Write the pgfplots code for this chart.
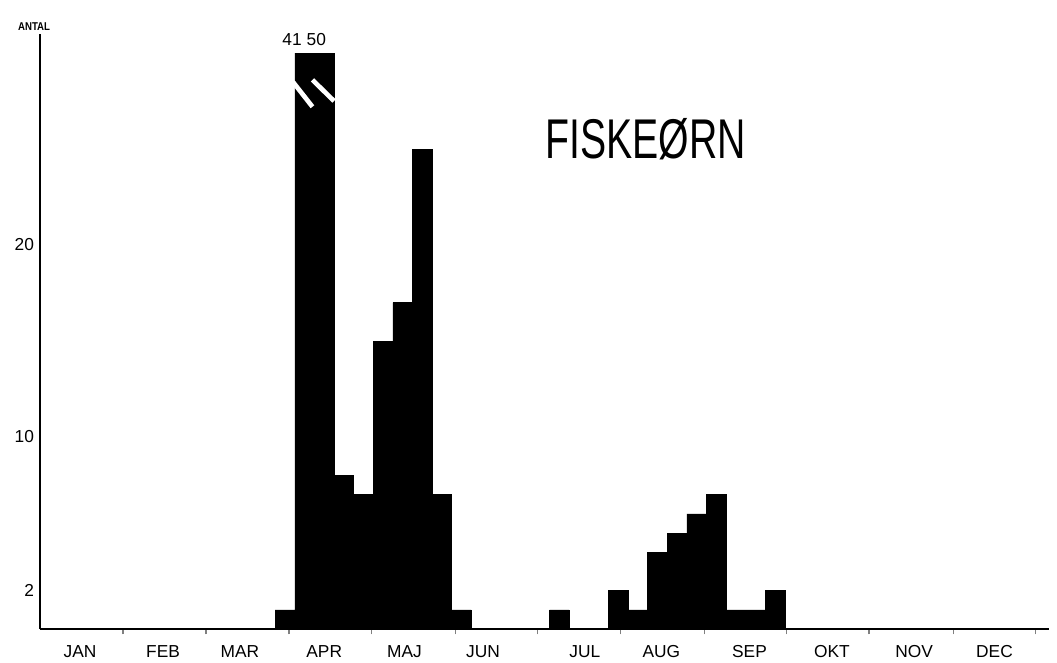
\documentclass[border=0pt]{standalone}
\usepackage{pgfplots}
\pgfplotsset{compat=1.18}
\usepackage{fontspec}
\setmainfont{Liberation Sans}
\begin{document}
\begin{tikzpicture}
\path[use as bounding box] (0pt,0pt) rectangle (792.75pt,-496.5pt);
\begin{axis}[
  at={(30pt,-471.75pt)}, anchor=south west,
  scale only axis,
  x=14.7pt, y=14.4pt,
  xmin=0, xmax=51.5, ymin=0, ymax=31,
  axis lines=left, axis line style={-, line width=1.2pt},
  clip=false,
  xtick={2.04,6.28,10.2,14.5,18.6,22.6,27.8,31.7,36.2,40.4,44.6,48.7},
  xticklabels={JAN,FEB,MAR,APR,MAJ,JUN,JUL,AUG,SEP,OKT,NOV,DEC},
  minor xtick={4.23,8.47,12.7,16.9,21.2,25.4,29.6,33.9,38.1,42.3,46.6,50.8},
  ytick={2,10,20},
  tick align=outside, major tick length=0pt, minor tick length=4pt,
  minor tick style={line width=0.9pt},
  tick label style={font=\fontsize{13}{13}\selectfont},
  /pgf/number format/assume math mode=true,
  xticklabel style={yshift=-9pt},
  yticklabel style={xshift=-1pt},
]
\addplot[ybar interval, fill=black, draw=black, y filter/.expression={min(y,30)}] coordinates {
(12,1) (13,41) (14,50) (15,8) (16,7) (17,15) (18,17) (19,25) (20,7) (21,1)
(22,0) (23,0) (24,0) (25,0) (26,1) (27,0) (28,0) (29,2) (30,1) (31,4)
(32,5) (33,6) (34,7) (35,1) (36,1) (37,2) (38,2)
};
\draw[white, line width=3.5pt] (axis cs:12.9,28.5) -- (axis cs:13.9,27.2);
\draw[white, line width=3.5pt] (axis cs:13.9,28.6) -- (axis cs:15.0,27.5);
\node[font=\fontsize{13}{13}\selectfont] at (axis cs:12.86,30.7) {41};
\node[font=\fontsize{13}{13}\selectfont] at (axis cs:14.1,30.7) {50};
\node[font=\fontsize{42}{42}\selectfont, xscale=0.7] at (axis cs:30.9,25.5) {FISKEØRN};
\node[font=\fontsize{8.5}{8.5}\selectfont\bfseries, xscale=0.85] at (axis cs:-0.3,31.4) {ANTAL};
\end{axis}
\end{tikzpicture}
\end{document}
